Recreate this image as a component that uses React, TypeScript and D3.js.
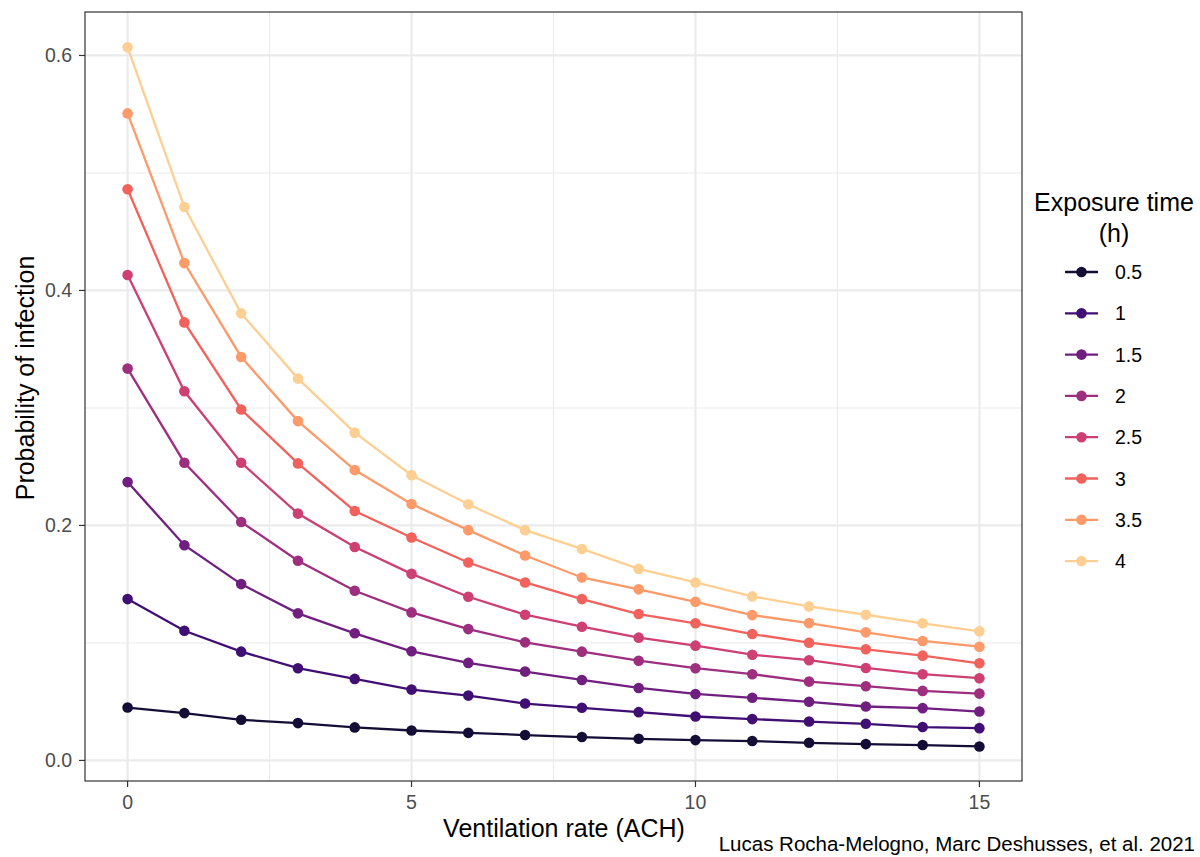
import React from 'react';
import * as d3 from 'd3';

// ventilation rate (air changes per hour)
const ach = [0, 1, 2, 3, 4, 5, 6, 7, 8, 9, 10, 11, 12, 13, 14, 15];

// exposure time groups (h)
const exposureLabels = ['0.5', '1', '1.5', '2', '2.5', '3', '3.5', '4'];

const p05 = [0.045, 0.0403, 0.0346, 0.0318, 0.0281, 0.0255, 0.0235, 0.0216, 0.0199, 0.0184, 0.0173, 0.0165, 0.015, 0.0139, 0.0131, 0.0119];
const p10 = [0.1373, 0.1104, 0.0926, 0.0785, 0.0694, 0.0603, 0.0552, 0.0484, 0.0448, 0.0411, 0.0374, 0.0352, 0.0331, 0.0312, 0.0284, 0.0275];
const p15 = [0.2369, 0.1832, 0.1501, 0.1252, 0.1082, 0.0929, 0.083, 0.0756, 0.0685, 0.0617, 0.0566, 0.0533, 0.0499, 0.0459, 0.0445, 0.0416];
const p20 = [0.3335, 0.2534, 0.203, 0.1699, 0.1444, 0.126, 0.1118, 0.1005, 0.0926, 0.0849, 0.0785, 0.0734, 0.0671, 0.0632, 0.0592, 0.0569];
const p25 = [0.4131, 0.3142, 0.2534, 0.2101, 0.1817, 0.1588, 0.1393, 0.124, 0.1138, 0.1045, 0.0977, 0.09, 0.0853, 0.0787, 0.0734, 0.07];
const p30 = [0.4861, 0.3728, 0.2987, 0.2528, 0.2123, 0.1897, 0.1685, 0.1515, 0.1373, 0.1246, 0.1167, 0.1076, 0.1002, 0.0946, 0.0892, 0.0827];
const p35 = [0.5507, 0.4233, 0.3434, 0.2888, 0.2471, 0.2182, 0.196, 0.1744, 0.1557, 0.1456, 0.135, 0.1237, 0.1169, 0.109, 0.1017, 0.0968];
const p40 = [0.607, 0.471, 0.3805, 0.325, 0.279, 0.2428, 0.218, 0.196, 0.18, 0.163, 0.1515, 0.1396, 0.1311, 0.124, 0.1167, 0.1099];

const seriesValues = [p05, p10, p15, p20, p25, p30, p35, p40];

const xTicks = [0, 5, 10, 15];
const xMinor = [2.5, 7.5, 12.5];
const yTicks = [0, 0.2, 0.4, 0.6];
const yMinor = [0.1, 0.3, 0.5];

const W = 1200;
const H = 857;
const panel = { left: 85, right: 1022, top: 12, bottom: 781 };
const font = 'Liberation Sans, Arial, Helvetica, sans-serif';

const App: React.FC = () => {
    const x = d3.scaleLinear().domain([-0.75, 15.75]).range([panel.left, panel.right]);
    const y = d3.scaleLinear().domain([-0.0175, 0.637]).range([panel.bottom, panel.top]);

    const color = d3.scaleOrdinal<string, string>()
        .domain(exposureLabels)
        .range(exposureLabels.map((_d, i) => d3.interpolateMagma(0.1 + (0.8 * i) / (exposureLabels.length - 1))));

    const line = d3.line<number>()
        .x((_d, i) => x(ach[i]))
        .y(d => y(d));

    const legendX = 1065;
    const legendY0 = 272;
    const legendStep = 41.3;

    return (
        <svg width={W} height={H} style={{ display: 'block', position: 'absolute', left: 0, top: 0 }} fontFamily={font}>
            <rect x={0} y={0} width={W} height={H} fill="#fff" />

            {/* grid */}
            {xMinor.map(v => (
                <line key={'xm' + v} x1={x(v)} x2={x(v)} y1={panel.top} y2={panel.bottom} stroke="#ebebeb" strokeWidth={1.1} />
            ))}
            {yMinor.map(v => (
                <line key={'ym' + v} x1={panel.left} x2={panel.right} y1={y(v)} y2={y(v)} stroke="#ebebeb" strokeWidth={1.1} />
            ))}
            {xTicks.map(v => (
                <line key={'xg' + v} x1={x(v)} x2={x(v)} y1={panel.top} y2={panel.bottom} stroke="#ebebeb" strokeWidth={2.2} />
            ))}
            {yTicks.map(v => (
                <line key={'yg' + v} x1={panel.left} x2={panel.right} y1={y(v)} y2={y(v)} stroke="#ebebeb" strokeWidth={2.2} />
            ))}

            {/* series */}
            {seriesValues.map((vals, si) => (
                <g key={exposureLabels[si]}>
                    <path d={line(vals) || ''} fill="none" stroke={color(exposureLabels[si])} strokeWidth={2.3} />
                    {vals.map((v, i) => (
                        <circle key={i} cx={x(ach[i])} cy={y(v)} r={5.3} fill={color(exposureLabels[si])} />
                    ))}
                </g>
            ))}

            {/* panel border */}
            <rect x={panel.left} y={panel.top} width={panel.right - panel.left} height={panel.bottom - panel.top}
                fill="none" stroke="#333" strokeWidth={1.2} />

            {/* axes ticks */}
            {xTicks.map(v => (
                <g key={'xt' + v}>
                    <line x1={x(v)} x2={x(v)} y1={panel.bottom} y2={panel.bottom + 6} stroke="#333" strokeWidth={1.2} />
                    <text x={x(v)} y={panel.bottom + 28} textAnchor="middle" fontSize={19.5} fill="#4d4d4d">{v}</text>
                </g>
            ))}
            {yTicks.map(v => (
                <g key={'yt' + v}>
                    <line x1={panel.left - 6} x2={panel.left} y1={y(v)} y2={y(v)} stroke="#333" strokeWidth={1.2} />
                    <text x={panel.left - 13} y={y(v) + 7} textAnchor="end" fontSize={19.5} fill="#4d4d4d">{d3.format('.1f')(v)}</text>
                </g>
            ))}

            {/* axis titles */}
            <text x={564} y={837} textAnchor="middle" fontSize={25} fill="#000">Ventilation rate (ACH)</text>
            <text transform={`translate(34,${378}) rotate(-90)`} textAnchor="middle" fontSize={25} fill="#000">
                Probability of infection
            </text>

            {/* caption */}
            <text x={1195} y={851} textAnchor="end" fontSize={20.5} fill="#000">Lucas Rocha-Melogno, Marc Deshusses, et al. 2021</text>

            {/* legend */}
            <text x={1114} y={211} textAnchor="middle" fontSize={25} fill="#000">Exposure time</text>
            <text x={1114} y={242} textAnchor="middle" fontSize={25} fill="#000">(h)</text>
            {exposureLabels.map((lab, i) => {
                const cy = legendY0 + i * legendStep;
                return (
                    <g key={'lg' + lab}>
                        <line x1={legendX} x2={legendX + 33} y1={cy} y2={cy} stroke={color(lab)} strokeWidth={2.3} />
                        <circle cx={legendX + 16.5} cy={cy} r={5.3} fill={color(lab)} />
                        <text x={legendX + 50} y={cy + 7} fontSize={19.5} fill="#000">{lab}</text>
                    </g>
                );
            })}
        </svg>
    );
};

export default App;
